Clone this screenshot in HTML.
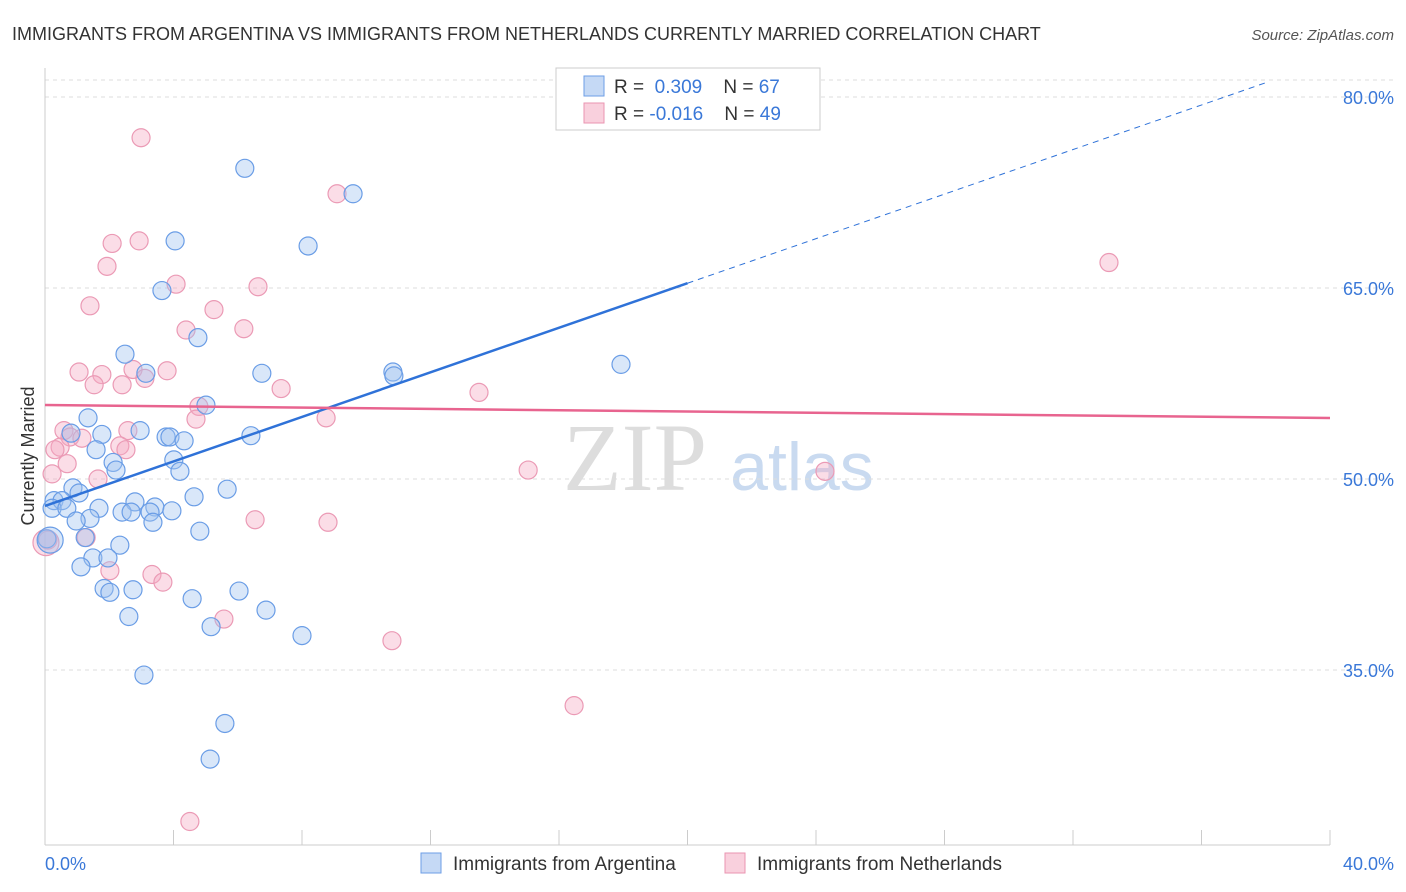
<!DOCTYPE html>
<html><head><meta charset="utf-8"><style>
body{margin:0;background:#fff;font-family:"Liberation Sans",sans-serif}
svg{display:block}
</style></head><body>
<svg id="chart" width="1406" height="892" viewBox="0 0 1406 892">
<text x="12" y="40" font-size="18" fill="#333">IMMIGRANTS FROM ARGENTINA VS IMMIGRANTS FROM NETHERLANDS CURRENTLY MARRIED CORRELATION CHART</text>
<text x="1394" y="40" font-size="15" fill="#555" font-style="italic" text-anchor="end">Source: ZipAtlas.com</text>
<g>
<text x="635" y="490" font-size="96" fill="#ddd" font-family="Liberation Serif,serif" text-anchor="middle">ZIP</text>
<text x="802" y="490" font-size="68" fill="#c9daf0" text-anchor="middle">atlas</text>
</g>
<g id="grid"></g>
<line x1="45" y1="68" x2="45" y2="845" stroke="#ccc"/>
<line x1="45" y1="845" x2="1330" y2="845" stroke="#ccc"/>
<text transform="translate(34,456) rotate(-90)" font-size="18" fill="#333" text-anchor="middle">Currently Married</text>
<text x="45" y="870" font-size="18" fill="#3a78d8">0.0%</text>
<text x="1394" y="870" font-size="18" fill="#3a78d8" text-anchor="end">40.0%</text>
<g id="points"></g>
<g id="lines"></g>
<g>
<rect x="556" y="68" width="264" height="62" fill="#fff" stroke="#ccc"/>
<rect x="584" y="76" width="20" height="20" fill="#c5d9f5" stroke="#6d9ee6"/>
<rect x="584" y="103" width="20" height="20" fill="#f9d0dd" stroke="#ea95b1"/>
<text x="614" y="93" font-size="19" fill="#333">R = <tspan fill="#3a78d8">&#160;0.309</tspan>&#160;&#160;&#160;&#160;N = <tspan fill="#3a78d8">67</tspan></text>
<text x="614" y="120" font-size="19" fill="#333">R = <tspan fill="#3a78d8">-0.016</tspan>&#160;&#160;&#160;&#160;N = <tspan fill="#3a78d8">49</tspan></text>
</g>
<g>
<rect x="421" y="853" width="20" height="20" fill="#c5d9f5" stroke="#6d9ee6"/>
<text x="453" y="870" font-size="19" fill="#333">Immigrants from Argentina</text>
<rect x="725" y="853" width="20" height="20" fill="#f9d0dd" stroke="#ea95b1"/>
<text x="757" y="870" font-size="19" fill="#333">Immigrants from Netherlands</text>
</g>
</svg>
<script>
const yTicks=[80,65,50,35];
const xTickCount=10;
const blueX=[6.22,9.59,4.05,8.19,3.64,4.76,2.49,3.14,6.75,10.83,10.86,17.93,5.01,1.34,0.81,1.77,2.96,3.77,3.89,6.41,4.33,1.59,4.01,2.12,2.21,4.20,0.87,1.06,5.67,4.64,0.28,0.53,0.22,0.68,1.68,2.80,3.42,2.40,2.68,3.27,3.95,1.40,0.97,3.36,4.82,1.25,0.06,2.33,1.49,1.96,1.12,1.84,2.74,2.02,6.04,4.58,2.61,6.88,5.17,8.00,3.08,5.60,5.14,0.16];
const blueY=[74.4,72.4,68.7,68.3,64.8,61.1,59.8,58.3,58.3,58.4,58.1,59.0,55.8,54.8,53.6,53.5,53.8,53.3,53.3,53.4,53.0,52.3,51.5,51.3,50.7,50.6,49.3,48.9,49.2,48.6,48.3,48.3,47.7,47.7,47.7,48.2,47.8,47.4,47.4,47.4,47.5,46.9,46.7,46.6,45.9,45.4,45.3,44.8,43.8,43.8,43.1,41.4,41.3,41.1,41.2,40.6,39.2,39.7,38.4,37.7,34.6,30.8,28.0,45.2];
const blueR=[9,9,9,9,9,9,9,9,9,9,9,9,9,9,9,9,9,9,9,9,9,9,9,9,9,9,9,9,9,9,9,9,9,9,9,9,9,9,9,9,9,9,9,9,9,9,9,9,9,9,9,9,9,9,9,9,9,9,9,9,9,9,9,13];
const pinkX=[2.99,9.09,2.09,2.93,1.93,4.08,6.63,1.40,5.26,4.39,6.19,1.06,1.77,2.74,3.80,3.11,1.53,2.40,7.35,4.79,4.70,8.75,13.51,33.12,0.59,0.78,1.15,2.58,0.47,2.33,2.52,0.31,0.69,1.65,0.22,15.04,24.28,6.54,8.81,1.28,0.09,2.02,3.33,3.67,5.57,10.80,16.47,4.51,0.03];
const pinkY=[76.8,72.4,68.5,68.7,66.7,65.3,65.1,63.6,63.3,61.7,61.8,58.4,58.2,58.6,58.5,57.9,57.4,57.4,57.1,55.7,54.7,54.8,56.8,67.0,53.8,53.3,53.2,53.8,52.5,52.6,52.3,52.3,51.2,50.0,50.4,50.7,50.6,46.8,46.6,45.4,45.2,42.8,42.5,41.9,39.0,37.3,32.2,23.1,45.0];
const pinkR=[9,9,9,9,9,9,9,9,9,9,9,9,9,9,9,9,9,9,9,9,9,9,9,9,9,9,9,9,9,9,9,9,9,9,9,9,9,9,9,9,9,9,9,9,9,9,9,9,13];
const blueTrend=[47.88,82.87];
const pinkTrend=[55.81,54.79];
const blueSolidEnd=20;
const NS="http://www.w3.org/2000/svg";
const xs=v=>45+v*32.125;
const ys=v=>97+(80-v)*12.733;
function mk(t,a,p){const e=document.createElementNS(NS,t);for(const k in a)e.setAttribute(k,a[k]);p.appendChild(e);return e;}
const grid=document.getElementById('grid');
yTicks.forEach(t=>{
 const l=mk('line',{x1:45,x2:1394,y1:ys(t),y2:ys(t),stroke:'#ddd','stroke-dasharray':'4,4'},grid);
 
 
 const tx=mk('text',{x:1394,y:ys(t)+7,'font-size':18,fill:'#3a78d8','text-anchor':'end'},grid);
 tx.textContent=t.toFixed(1)+'%';
 
 
});
const gl=mk('line',{x1:45,x2:1394,y1:ys(80)-17,y2:ys(80)-17,stroke:'#ddd','stroke-dasharray':'4,4'},grid);
for(let i=1;i<=xTickCount;i++){
 const x=xs(i*4);
 const l=mk('line',{x1:x,x2:x,y1:830,y2:845,stroke:'#ccc'},grid);
 
 
}
const pts=document.getElementById('points');
pinkX.forEach((v,i)=>{
 const c=mk('circle',{cx:xs(v),cy:ys(pinkY[i]),r:pinkR[i],fill:'rgba(245,170,195,0.4)',stroke:'#eb9ab5','stroke-width':1.2},pts);
 
 
});
blueX.forEach((v,i)=>{
 const c=mk('circle',{cx:xs(v),cy:ys(blueY[i]),r:blueR[i],fill:'rgba(160,195,240,0.4)',stroke:'#6a9de6','stroke-width':1.2},pts);
 
 
});
const ln=document.getElementById('lines');
const bAt=x=>blueTrend[0]+(blueTrend[1]-blueTrend[0])*x/40;
const b1=mk('line',{x1:xs(0),y1:ys(bAt(0)),x2:xs(blueSolidEnd),y2:ys(bAt(blueSolidEnd)),stroke:'#2f72d8','stroke-width':2.5},ln);


const b2=mk('line',{x1:xs(blueSolidEnd),y1:ys(bAt(blueSolidEnd)),x2:xs(38.1),y2:ys(bAt(38.1)),stroke:'#2f72d8','stroke-width':1,'stroke-dasharray':'6,5'},ln);


const p1=mk('line',{x1:xs(0),y1:ys(pinkTrend[0]),x2:xs(40),y2:ys(pinkTrend[1]),stroke:'#e8648f','stroke-width':2.5},ln);


</script>
</body></html>
